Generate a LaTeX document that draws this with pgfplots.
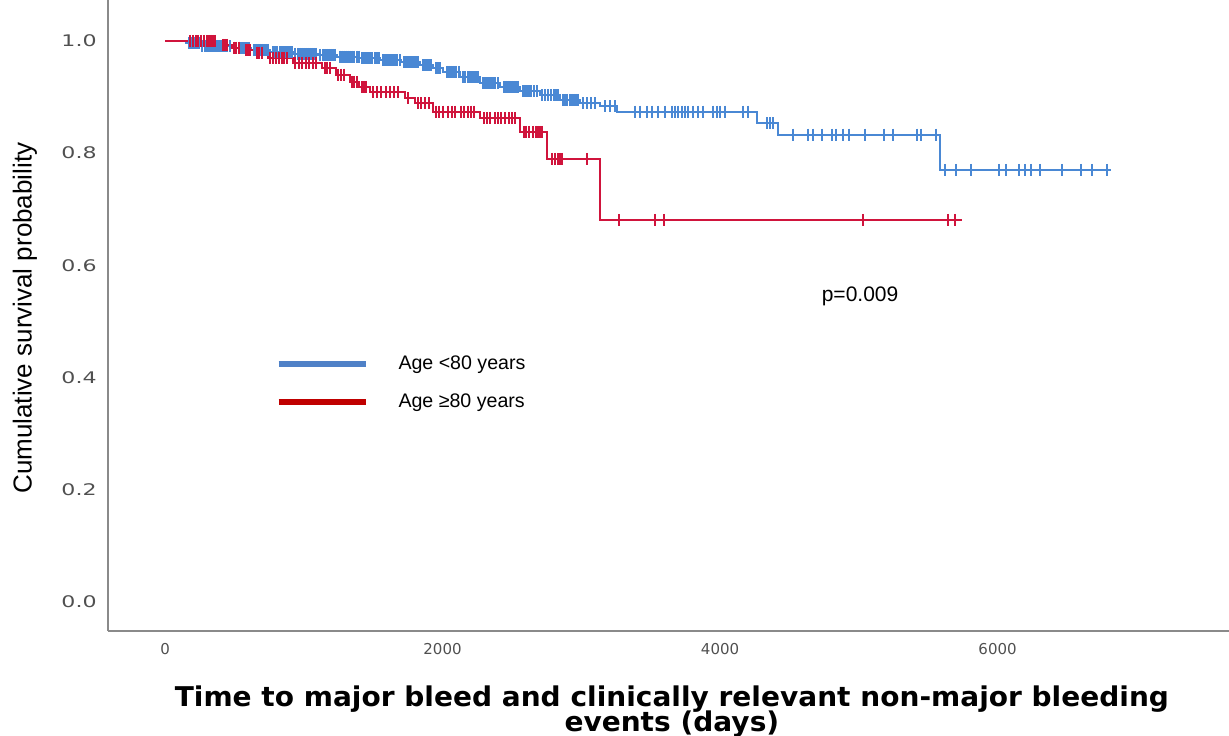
\documentclass[border=0pt]{standalone}
\usepackage{pgfplots}
\pgfplotsset{compat=1.18}
\usepackage{fontspec}
\setmainfont{Liberation Sans}
\newfontfamily\djv{DejaVu Sans}
\newfontfamily\djvwide[FakeStretch=1.38]{DejaVu Sans}
\newfontfamily\djvx[FakeStretch=1.03]{DejaVu Sans}
\definecolor{cblue}{HTML}{4A88D4}
\definecolor{cred}{HTML}{D0143C}
\definecolor{lblue}{HTML}{4F81C7}
\definecolor{lred}{HTML}{C00000}
\definecolor{tickgray}{HTML}{505050}
\definecolor{spine}{HTML}{8A8A8A}
\begin{document}
\begin{tikzpicture}
\begin{axis}[
  at={(54pt,52pt)}, anchor=south west,
  scale only axis, width=560.5pt, height=315.5pt,
  xmin=-411, xmax=7668, ymin=-0.0517, ymax=1.073,
  axis x line*=bottom, axis y line*=left,
  axis line style={spine, line width=1pt, -},
  major tick length=0pt,
  xtick={0,2000,4000,6000},
  ytick={0,0.2,0.4,0.6,0.8,1.0},
  /pgf/number format/assume math mode=true,
  xticklabel style={font=\djv\fontsize{7.5}{9}\selectfont, text=tickgray, inner sep=0pt, yshift=-6pt, /pgf/number format/1000 sep={}},
  yticklabel style={font=\djvwide\fontsize{8}{9}\selectfont, text=tickgray, inner sep=0pt, xshift=-5.5pt, /pgf/number format/.cd, fixed, fixed zerofill, precision=1},
  xlabel={Time to major bleed and clinically relevant non-major bleeding\\[-2pt]events (days)},
  xlabel style={at={(axis description cs:0.503,0)}, anchor=north, yshift=-24pt, align=center, font=\djvx\bfseries\fontsize{13.6}{11.6}\selectfont},
  ylabel={Cumulative survival probability},
  ylabel style={at={([xshift=-41.5pt]axis description cs:0,0.496)}, anchor=center, font=\fontsize{13}{15}\selectfont},
  legend image code/.code={\draw[#1] (0pt,0pt) -- (43.5pt,0pt);},
  legend cell align=left,
  legend style={at={(axis description cs:0.1437,0.393)}, anchor=west, draw=none, fill=none,
    font=\fontsize{9.8}{11}\selectfont, row sep=11pt, nodes={inner sep=0pt},
    /tikz/every odd column/.append style={column sep=15pt}},
  clip=false,
]
\addlegendimage{lblue, line width=3pt}
\addlegendentry{Age <80 years}
\addlegendimage{lred, line width=3pt}
\addlegendentry{Age ≥80 years}

% Age <80: step curve
\addplot[const plot, cblue, line width=1pt, forget plot] table {
x y
0 1.000
150 0.996
250 0.991
480 0.987
620 0.984
760 0.980
920 0.977
1100 0.975
1240 0.972
1400 0.969
1550 0.966
1700 0.962
1838 0.957
1930 0.951
2004 0.945
2126 0.935
2270 0.925
2414 0.918
2558 0.910
2703 0.903
2847 0.895
2991 0.889
3135 0.884
3258 0.874
4266 0.853
4418 0.833
5585 0.770
6818 0.770
};
% Age <80: censored
\addplot[only marks, mark=|, mark size=3pt, cblue, mark options={line width=1pt}, forget plot] table {
x y
170 0.996
185 0.996
200 0.996
215 0.996
230 0.996
245 0.996
270 0.991
285 0.991
300 0.991
315 0.991
330 0.991
345 0.991
360 0.991
375 0.991
390 0.991
405 0.991
420 0.991
435 0.991
450 0.991
465 0.991
500 0.987
515 0.987
530 0.987
545 0.987
560 0.987
575 0.987
590 0.987
605 0.987
640 0.984
655 0.984
670 0.984
685 0.984
700 0.984
715 0.984
730 0.984
745 0.984
780 0.980
795 0.980
810 0.980
825 0.980
840 0.980
855 0.980
870 0.980
885 0.980
900 0.980
915 0.980
940 0.977
955 0.977
970 0.977
985 0.977
1000 0.977
1015 0.977
1030 0.977
1045 0.977
1060 0.977
1075 0.977
1090 0.977
1120 0.975
1135 0.975
1150 0.975
1165 0.975
1180 0.975
1195 0.975
1210 0.975
1225 0.975
1260 0.972
1275 0.972
1290 0.972
1305 0.972
1320 0.972
1335 0.972
1350 0.972
1365 0.972
1380 0.972
1395 0.972
1420 0.969
1435 0.969
1450 0.969
1465 0.969
1480 0.969
1495 0.969
1510 0.969
1525 0.969
1540 0.969
1570 0.966
1585 0.966
1600 0.966
1615 0.966
1630 0.966
1645 0.966
1660 0.966
1675 0.966
1690 0.966
1720 0.962
1735 0.962
1750 0.962
1765 0.962
1780 0.962
1795 0.962
1810 0.962
1825 0.962
1860 0.957
1875 0.957
1890 0.957
1905 0.957
1915 0.957
1950 0.951
1965 0.951
1980 0.951
2030 0.945
2045 0.945
2060 0.945
2075 0.945
2090 0.945
2100 0.945
2115 0.945
2150 0.935
2165 0.935
2180 0.935
2195 0.935
2210 0.935
2225 0.935
2240 0.935
2255 0.935
2290 0.925
2305 0.925
2320 0.925
2335 0.925
2350 0.925
2365 0.925
2380 0.925
2400 0.925
2440 0.918
2455 0.918
2470 0.918
2485 0.918
2500 0.918
2515 0.918
2530 0.918
2545 0.918
2580 0.910
2595 0.910
2610 0.910
2625 0.910
2640 0.910
2660 0.910
2680 0.910
2720 0.903
2740 0.903
2760 0.903
2780 0.903
2800 0.903
2815 0.903
2830 0.903
2870 0.895
2885 0.895
2900 0.895
2915 0.895
2930 0.895
2945 0.895
2960 0.895
2975 0.895
3010 0.889
3040 0.889
3070 0.889
3100 0.889
3171 0.884
3207 0.884
3243 0.884
3387 0.874
3423 0.874
3474 0.874
3510 0.874
3553 0.874
3604 0.874
3654 0.874
3676 0.874
3697 0.874
3726 0.874
3748 0.874
3769 0.874
3805 0.874
3841 0.874
3877 0.874
3949 0.874
3978 0.874
4000 0.874
4036 0.874
4165 0.874
4201 0.874
4339 0.853
4360 0.853
4382 0.853
4526 0.833
4634 0.833
4670 0.833
4735 0.833
4807 0.833
4836 0.833
4886 0.833
4930 0.833
5045 0.833
5182 0.833
5247 0.833
5420 0.833
5448 0.833
5556 0.833
5621 0.770
5701 0.770
5809 0.770
6010 0.770
6061 0.770
6155 0.770
6198 0.770
6241 0.770
6306 0.770
6464 0.770
6601 0.770
6680 0.770
6789 0.770
};

% Age >=80: step curve
\addplot[const plot, cred, line width=1pt, forget plot] table {
x y
0 1.000
400 0.993
480 0.988
560 0.984
640 0.979
740 0.970
920 0.961
1130 0.952
1230 0.940
1330 0.927
1400 0.918
1480 0.909
1730 0.898
1800 0.889
1930 0.874
2270 0.862
2560 0.838
2750 0.790
3135 0.681
5744 0.681
};
% Age >=80: censored
\addplot[only marks, mark=|, mark size=3pt, cred, mark options={line width=1pt}, forget plot] table {
x y
180 1.000
200 1.000
220 1.000
240 1.000
260 1.000
280 1.000
300 1.000
315 1.000
330 1.000
345 1.000
360 1.000
420 0.993
435 0.993
450 0.993
500 0.988
515 0.988
530 0.988
580 0.984
595 0.984
610 0.984
660 0.979
680 0.979
700 0.979
760 0.970
780 0.970
800 0.970
820 0.970
840 0.970
860 0.970
880 0.970
940 0.961
965 0.961
990 0.961
1015 0.961
1040 0.961
1065 0.961
1090 0.961
1150 0.952
1170 0.952
1190 0.952
1250 0.940
1270 0.940
1290 0.940
1350 0.927
1365 0.927
1380 0.927
1420 0.918
1435 0.918
1450 0.918
1500 0.909
1530 0.909
1560 0.909
1590 0.909
1620 0.909
1650 0.909
1680 0.909
1750 0.898
1820 0.889
1845 0.889
1870 0.889
1900 0.889
1950 0.874
1975 0.874
2000 0.874
2040 0.874
2065 0.874
2090 0.874
2130 0.874
2155 0.874
2180 0.874
2205 0.874
2230 0.874
2300 0.862
2320 0.862
2340 0.862
2380 0.862
2400 0.862
2420 0.862
2450 0.862
2480 0.862
2500 0.862
2520 0.862
2590 0.838
2605 0.838
2620 0.838
2650 0.838
2670 0.838
2690 0.838
2705 0.838
2720 0.838
2790 0.790
2810 0.790
2830 0.790
2845 0.790
2860 0.790
3040 0.790
3272 0.681
3531 0.681
3596 0.681
5030 0.681
5643 0.681
5694 0.681
};

\node[font=\fontsize{10.5}{12}\selectfont] at (axis cs:5009,0.545) {p=0.009};
\end{axis}
\pgfresetboundingbox
\path[use as bounding box] (0,0) rectangle (614.5pt,367.5pt);
\end{tikzpicture}
\end{document}
